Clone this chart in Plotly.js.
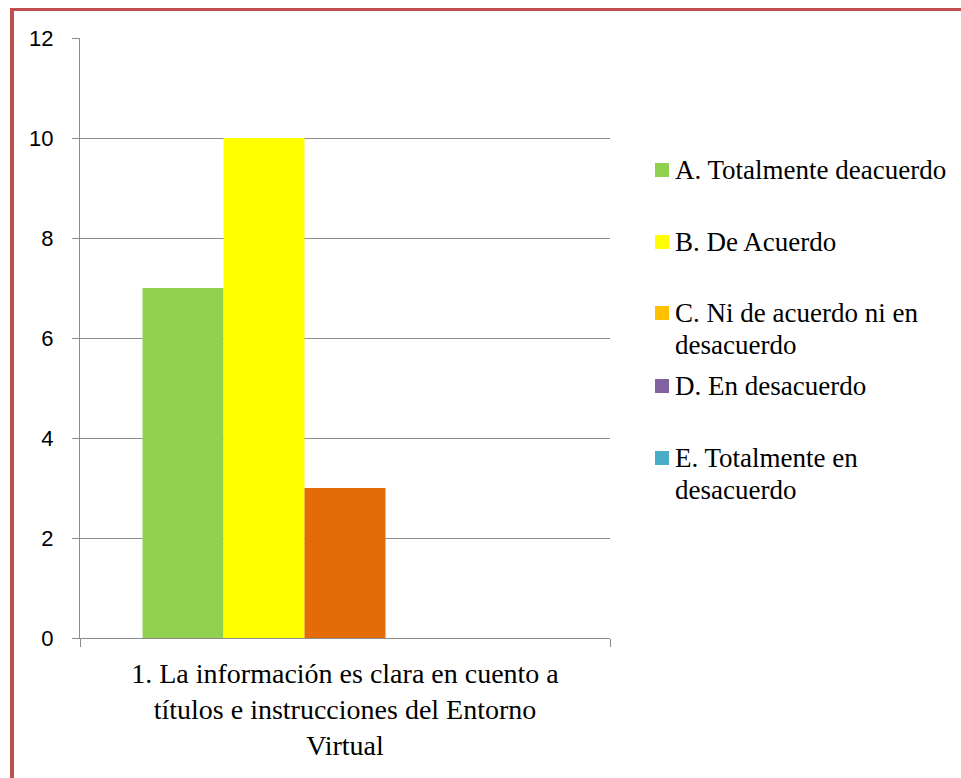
<!DOCTYPE html>
<html>
<head>
<meta charset="utf-8">
<script src="https://cdn.plot.ly/plotly-3.0.1.min.js"></script>
<style>
  html, body { margin: 0; padding: 0; background: #fff; overflow: hidden; }
  #chart { position: absolute; left: 0; top: 0; width: 961px; height: 778px; }
</style>
</head>
<body>
<div id="chart"></div>
<script>
// ---- data ----
var categories = ['1. La información es clara en cuento a<br>títulos e instrucciones del Entorno<br>Virtual'];
var seriesNames = [
  'A. Totalmente deacuerdo',
  'B. De Acuerdo',
  'C. Ni de acuerdo ni en<br>desacuerdo',
  'D. En desacuerdo',
  'E. Totalmente en<br>desacuerdo'
];
var valuesA = [7];
var valuesB = [10];
var valuesC = [3];
var valuesD = [0];
var valuesE = [0];
var seriesValues = [valuesA, valuesB, valuesC, valuesD, valuesE];
var barColors = ['#92D050', '#FFFF00', '#E36C09', '#8064A2', '#4BACC6'];
var legendColors = ['#92D050', '#FFFF00', '#FFC000', '#8064A2', '#4BACC6'];
var yTickVals = [0, 2, 4, 6, 8, 10, 12];

var SERIF = 'Times New Roman';
var SANS = 'Liberation Sans';

// ---- layout geometry (pixels) ----
var W = 961, H = 778;
var plotL = 80, plotR = 610, plotT = 38, plotB = 638;
function px2x(px) { return (px - plotL) / (plotR - plotL); }
function px2y(py) { return (plotB - py) / (plotB - plotT); }

var traces = seriesNames.map(function (name, i) {
  return {
    type: 'bar',
    name: name,
    x: categories,
    y: seriesValues[i],
    marker: { color: barColors[i], line: { width: 0 } },
    hoverinfo: 'skip'
  };
});

// custom legend (reference legend spacing)
var legendTextX = 673;
var legendMarkX = 662;
var legendSlotY = [170, 242, 313, 386, 458];
var legendLineGap = 32;
var annotations = [];
var shapes = [];
seriesNames.forEach(function (name, i) {
  var lines = name.split('<br>');
  lines.forEach(function (ln, j) {
    annotations.push({
      xref: 'paper', yref: 'paper',
      x: px2x(legendTextX), y: px2y(legendSlotY[i] + j * legendLineGap),
      xanchor: 'left', yanchor: 'middle',
      text: ln, showarrow: false,
      font: { family: SERIF, size: 27, color: '#000' }
    });
  });
  shapes.push({
    type: 'rect', xref: 'paper', yref: 'paper',
    x0: px2x(legendMarkX - 7), x1: px2x(legendMarkX + 7),
    y0: px2y(legendSlotY[i] + 7), y1: px2y(legendSlotY[i] - 7),
    fillcolor: legendColors[i], line: { width: 0 }
  });
});

// red frame (top and left edges of the page border)
shapes.push({
  type: 'rect', xref: 'paper', yref: 'paper', layer: 'above',
  x0: px2x(10), x1: px2x(W + 5), y0: px2y(11), y1: px2y(8),
  fillcolor: '#C0504D', line: { width: 0 }
});
shapes.push({
  type: 'rect', xref: 'paper', yref: 'paper', layer: 'above',
  x0: px2x(10), x1: px2x(14), y0: px2y(H + 5), y1: px2y(8),
  fillcolor: '#C0504D', line: { width: 0 }
});

var layout = {
  width: W, height: H,
  margin: { l: plotL, r: W - plotR, t: plotT, b: H - plotB, pad: 0 },
  paper_bgcolor: '#ffffff',
  plot_bgcolor: '#ffffff',
  showlegend: false,
  barmode: 'group',
  bargap: 0.236,
  bargroupgap: 0,
  xaxis: {
    type: 'category',
    showline: true, linecolor: '#8c8c8c', linewidth: 1,
    ticks: 'outside', tickson: 'boundaries', ticklen: 8, tickcolor: '#8c8c8c',
    showgrid: false, zeroline: false,
    ticklabelstandoff: 10,
    tickfont: { family: SERIF, size: 28, color: '#000' }
  },
  yaxis: {
    range: [0, 12],
    tickvals: yTickVals,
    showline: true, linecolor: '#8c8c8c', linewidth: 1,
    ticks: 'outside', ticklen: 7, tickcolor: '#8c8c8c',
    ticklabelstandoff: 14,
    showgrid: true, gridcolor: '#8c8c8c', gridwidth: 1,
    zeroline: false,
    tickfont: { family: SANS, size: 22, color: '#000' }
  },
  annotations: annotations,
  shapes: shapes,
  hovermode: false
};

Plotly.newPlot('chart', traces, layout, { displayModeBar: false, staticPlot: true });
</script>
</body>
</html>
